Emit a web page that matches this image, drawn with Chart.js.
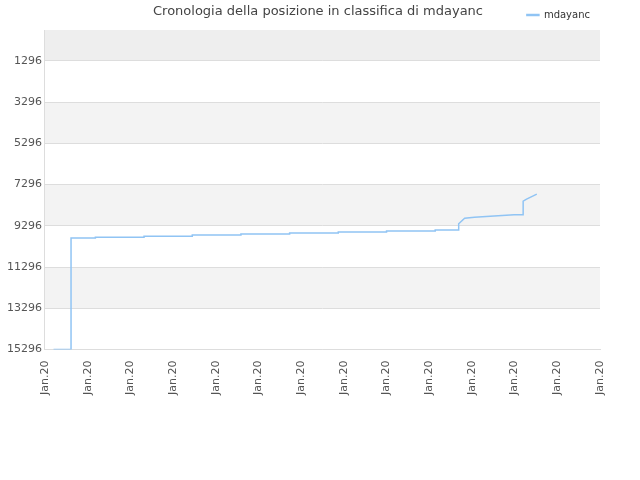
<!DOCTYPE html>
<html>
<head>
<meta charset="utf-8">
<script src="https://cdn.jsdelivr.net/npm/chart.js@4"></script>
<style>
  body { margin: 0; background: #fff; }
</style>
</head>
<body>
<canvas id="myChart" width="640" height="480"></canvas>
<script>
const seriesName = 'mdayanc'
const xs = [0.2, 0.61, 0.61, 1.18, 1.18, 2.32, 2.32, 3.45, 3.45, 4.59, 4.59, 5.73, 5.73, 6.87, 6.87, 8.0, 8.0, 9.14, 9.14, 9.69, 9.69, 9.83, 10.06, 10.52, 10.99, 11.2, 11.2, 11.28, 11.52]
const ranks = [15296, 15296, 9883, 9883, 9850, 9850, 9800, 9800, 9740, 9740, 9690, 9690, 9640, 9640, 9595, 9595, 9550, 9550, 9500, 9500, 9195, 8927, 8880, 8815, 8765, 8765, 8096, 8000, 7760]
const yTicks = [1296, 3296, 5296, 7296, 9296, 11296, 13296, 15296]
const xLabel = 'Jan.20'
const xCount = 14
const titleText = 'Cronologia della posizione in classifica di mdayanc'

const bands = {
  id: 'bands',
  beforeDraw(chart) {
    const { ctx, chartArea: a, scales: { y } } = chart
    ctx.save()
    ctx.fillStyle = '#eeeeee'
    ctx.fillRect(a.left, a.top, a.right - a.left, y.getPixelForValue(yTicks[0]) - a.top)
    ctx.fillStyle = '#f3f3f3'
    for (let i = 1; i < yTicks.length - 1; i += 2) {
      const t = y.getPixelForValue(yTicks[i]), b = y.getPixelForValue(yTicks[i + 1])
      ctx.fillRect(a.left, t, a.right - a.left, b - t)
    }
    ctx.restore()
  },
  afterDraw(chart) {
    const ctx = chart.ctx
    ctx.save()
    ctx.fillStyle = '#444'
    ctx.font = '13px "DejaVu Sans"'
    ctx.textAlign = 'center'
    ctx.textBaseline = 'middle'
    ctx.fillText(titleText, 318, 12)
    ctx.restore()
  }
}

new Chart(document.getElementById('myChart'), {
  type: 'line',
  data: {
    datasets: [{
      label: seriesName,
      data: xs.map((x, i) => ({ x, y: ranks[i] })),
      borderColor: '#90c4f4',
      backgroundColor: '#90c4f4',
      borderWidth: 1.5,
      pointRadius: 0,
      tension: 0
    }]
  },
  options: {
    responsive: false,
    animation: false,
    layout: { padding: { left: 4, right: 40, top: 0, bottom: 82 } },
    plugins: {
      title: { display: false },
      legend: {
        position: 'top', align: 'end',
        labels: { boxWidth: 12, boxHeight: 1, padding: 10, color: '#333', font: { size: 10, family: 'DejaVu Sans' } }
      },
      tooltip: { enabled: false }
    },
    scales: {
      x: {
        type: 'linear', min: 0, max: xCount - 1,
        afterBuildTicks: s => { s.ticks = Array.from({ length: xCount }, (_, i) => ({ value: i })) },
        ticks: { callback: () => xLabel, maxRotation: 90, minRotation: 90, color: '#555', font: { size: 11, family: 'DejaVu Sans' } },
        grid: { display: false },
        border: { color: '#ddd' }
      },
      y: {
        reverse: true, min: -200, max: 15296,
        afterBuildTicks: s => { s.ticks = yTicks.map(v => ({ value: v })) },
        ticks: { callback: v => String(v), color: '#555', font: { size: 11, family: 'DejaVu Sans' } },
        grid: { color: '#dddddd', drawTicks: false },
        border: { color: '#ddd' }
      }
    }
  },
  plugins: [bands]
})
</script>
</body>
</html>
